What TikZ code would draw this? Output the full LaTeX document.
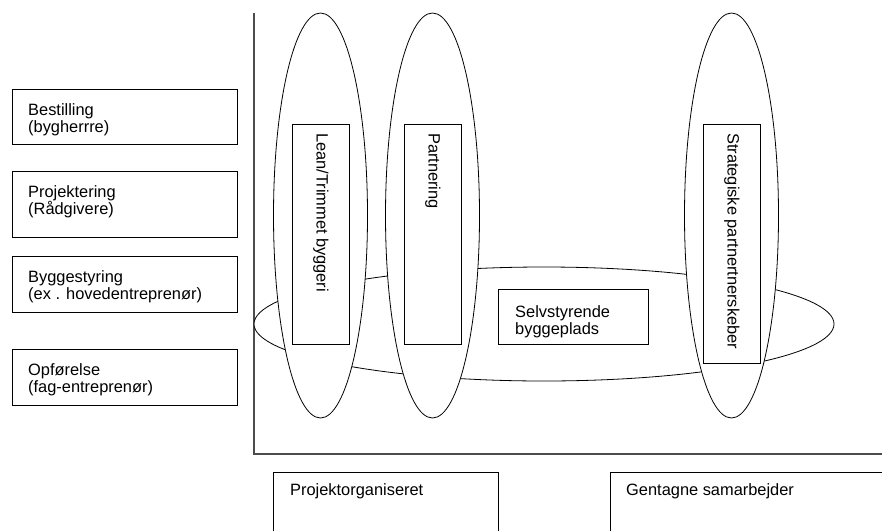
\documentclass[tikz,border=0pt]{standalone}
\usepackage{fontspec}
\setmainfont{Liberation Sans}
\usetikzlibrary{calc}
\tikzset{
  box/.style={draw=black, line width=0.9pt, inner sep=0pt, anchor=north west},
  lbl/.style={inner sep=0pt, anchor=north west, align=left, font=\fontsize{16.4}{17}\selectfont},
  vlbl/.style={inner sep=0pt, anchor=west, rotate=-90, font=\fontsize{16.4}{17}\selectfont},
  oval/.style={draw=black, line width=0.8pt, fill=white},
  axis/.style={draw=black!70, line width=1.2pt}
}
\begin{document}
\begin{tikzpicture}[x=1pt,y=-1pt]
\useasboundingbox (0,0) rectangle (882,530);
\clip (0,0) rectangle (882,530);
\fill[white] (0,0) rectangle (882,530);
% axes
\coordinate (ytop) at (254,13);
\coordinate (orig) at (254,454);
\coordinate (xend) at (882,454);
\draw[axis] (ytop) -- (orig) -- (xend);
% left boxes
\node[box, minimum width=225pt, minimum height=55pt] (b1) at (12,89) {};
\node[lbl] (t1) at ($(b1.north west)+(16,14)$) {Bestilling\\(bygherrre)};
\node[box, minimum width=225pt, minimum height=66pt] (b2) at (12,171) {};
\node[lbl] (t2) at ($(b2.north west)+(16,14)$) {Projektering\\(Rådgivere)};
\node[box, minimum width=225pt, minimum height=56pt] (b3) at (12,256) {};
\node[lbl] (t3) at ($(b3.north west)+(16,14)$) {Byggestyring\\(ex . hovedentreprenør)};
\node[box, minimum width=225pt, minimum height=56pt] (b4) at (12,349) {};
\node[lbl] (t4) at ($(b4.north west)+(16,14)$) {Opførelse\\(fag-entreprenør)};
% horizontal ellipse
\draw[oval] (544,324) ellipse [x radius=290, y radius=57];
\node[box, minimum width=150pt, minimum height=55pt] (sb) at (498,289) {};
\node[lbl] (st) at ($(sb.north west)+(17,16)$) {Selvstyrende\\byggeplads};
% vertical ellipses
\draw[oval] (320.5,215.5) ellipse [x radius=47, y radius=202.5];
\draw[oval] (432.5,215.5) ellipse [x radius=47, y radius=202.5];
\draw[oval] (731.5,215.5) ellipse [x radius=47, y radius=202.5];
\node[box, minimum width=57pt, minimum height=220pt] (lb) at (292,124) {};
\node[vlbl] (lt) at ($(lb.north)+(0,9)$) {Lean/Trimmet byggeri};
\node[box, minimum width=57pt, minimum height=220pt] (pb) at (404,124) {};
\node[vlbl] (pt) at ($(pb.north)+(0,9)$) {Partnering};
\node[box, minimum width=57pt, minimum height=239pt] (gb) at (703,124) {};
\node[vlbl] (gt) at ($(gb.north)+(0,9)$) {Strategiske partnertnerskeber};
% bottom boxes
\node[box, minimum width=225pt, minimum height=80pt] (pob) at (273,472) {};
\node[lbl] (pot) at ($(pob.north west)+(17,11)$) {Projektorganiseret};
\node[box, minimum width=290pt, minimum height=80pt] (gsb) at (610,472) {};
\node[lbl] (gst) at ($(gsb.north west)+(16,11)$) {Gentagne samarbejder};
\end{tikzpicture}
\end{document}
